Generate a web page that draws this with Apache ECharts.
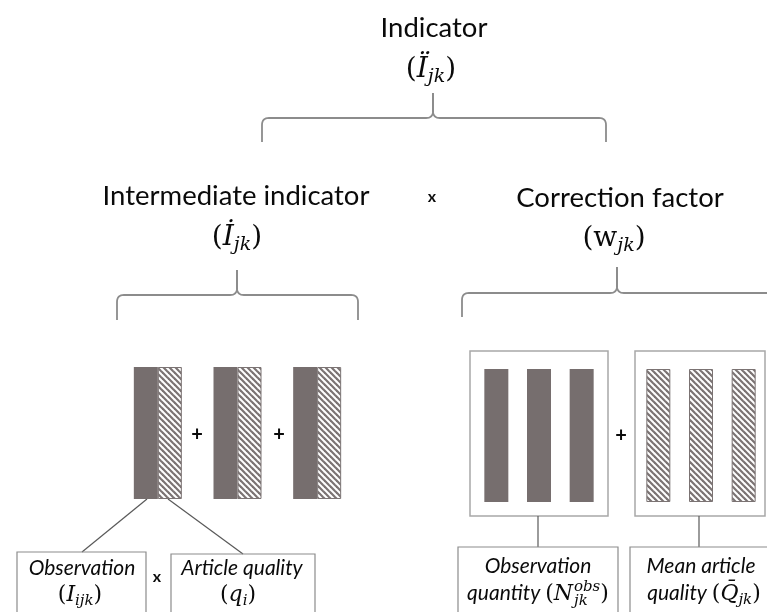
<!DOCTYPE html>
<html>
<head>
<meta charset="utf-8">
<script src="https://cdn.jsdelivr.net/npm/echarts@6/dist/echarts.min.js"></script>
<style>
html, body { margin: 0; padding: 0; background: #fff; }
#main { width: 767px; height: 612px; }
</style>
</head>
<body>
<div id="main"></div>
<script>
// bars of the diagram: one per article, each full height
var articleCategories = ['article 1', 'article 2', 'article 3'];
var observationValues = [1, 1, 1];
var articleQualityValues = [1, 1, 1];
var quantityValues = [1, 1, 1];
var meanQualityValues = [1, 1, 1];

var headings = ['Indicator', 'Intermediate indicator', 'Correction factor'];
var leafLabels = ['Observation', 'Article quality', 'Observation', 'Mean article'];

var SANS = 'Lato', MATH = 'DejaVu Serif';
var ink = '#0a0a0a';
var barDark = '#766e6e';
var hatchInk = '#7b7373';

function fnt(style, size, fam) { return style + ' ' + size + 'px "' + fam + '"'; }

// measuring, so that pieces of a formula can be set side by side
var mctx = document.createElement('canvas').getContext('2d');
function tw(s, font) {
    mctx.font = font;
    mctx.textBaseline = 'alphabetic';
    return mctx.measureText(s).width;
}
function baseOff(font) {
    mctx.font = font;
    mctx.textBaseline = 'alphabetic';
    var a = mctx.measureText('H').actualBoundingBoxAscent;
    mctx.textBaseline = 'middle';
    var m = mctx.measureText('H').actualBoundingBoxAscent;
    return a - m;
}
function textEl(x, baseline, s, font, align) {
    return {
        type: 'text', x: x, y: baseline - baseOff(font), silent: true,
        style: {
            text: s, font: font, fill: ink,
            align: align || 'left', verticalAlign: 'middle',
            textAlign: align || 'left', textVerticalAlign: 'middle'
        }
    };
}
function centerText(x, y, s, font) {
    return {
        type: 'text', x: x, y: y, silent: true,
        style: {
            text: s, font: font, fill: ink,
            align: 'center', verticalAlign: 'middle',
            textAlign: 'center', textVerticalAlign: 'middle'
        }
    };
}
function mathLine(cx, baseline, pieces) {
    var widths = pieces.map(function (p) {
        if (p.t != null) return tw(p.t, p.font) + (p.kern || 0);
        return Math.max(tw(p.sup, p.font), tw(p.sub, p.font));
    });
    var total = widths.reduce(function (a, b) { return a + b; }, 0);
    var x = cx - total / 2, els = [];
    pieces.forEach(function (p, i) {
        if (p.t != null) {
            els.push(textEl(x, baseline + (p.dy || 0), p.t, p.font));
        } else {
            els.push(textEl(x, baseline + p.supDy, p.sup, p.font));
            els.push(textEl(x, baseline + p.subDy, p.sub, p.font));
        }
        x += widths[i];
    });
    return els;
}

// curly brace, open side down
function brace(x0, x1, xt, y, yEnd, yTip) {
    var r = 7;
    function half(xe, dir) {
        var pts = [[xe, yEnd], [xe, y + r]];
        function q(p0, c, p1) {
            for (var t = 0.125; t <= 1.0001; t += 0.125) {
                pts.push([
                    (1 - t) * (1 - t) * p0[0] + 2 * (1 - t) * t * c[0] + t * t * p1[0],
                    (1 - t) * (1 - t) * p0[1] + 2 * (1 - t) * t * c[1] + t * t * p1[1]
                ]);
            }
        }
        q([xe, y + r], [xe, y], [xe + dir * r, y]);
        pts.push([xt - dir * r, y]);
        q([xt - dir * r, y], [xt, y], [xt, y - r]);
        pts.push([xt, yTip]);
        return {
            type: 'polyline', silent: true,
            shape: { points: pts },
            style: { stroke: '#8c8c8c', lineWidth: 1.8, fill: null }
        };
    }
    return [half(x0, 1), half(x1, -1)];
}

function lineEl(x1, y1, x2, y2) {
    return {
        type: 'line', silent: true,
        shape: { x1: x1, y1: y1, x2: x2, y2: y2 },
        style: { stroke: '#595959', lineWidth: 1.2 }
    };
}
function boxEl(x, y, w, h, color, lw) {
    return {
        type: 'rect', silent: true,
        shape: { x: x, y: y, width: w, height: h },
        style: { stroke: color, lineWidth: lw, fill: null }
    };
}

// hatch tile: thin diagonal stripes
var tile = document.createElement('canvas');
tile.width = 6; tile.height = 6;
var tctx = tile.getContext('2d');
tctx.fillStyle = '#fff';
tctx.fillRect(0, 0, 6, 6);
tctx.strokeStyle = hatchInk;
tctx.lineWidth = 2.2;
[-6, 0, 6].forEach(function (c) {
    tctx.beginPath();
    tctx.moveTo(-1, -1 + c);
    tctx.lineTo(7, 7 + c);
    tctx.stroke();
});
var hatch = { image: tile, repeat: 'repeat' };

var H1 = fnt('normal', 27.5, SANS);
var M24 = fnt('normal', 28, MATH), I24 = fnt('italic', 28, MATH), S17 = fnt('italic', 19, MATH);
var L19 = fnt('italic', 21, SANS);
var M20 = fnt('normal', 22, MATH), I20 = fnt('italic', 22, MATH), S14 = fnt('italic', 15, MATH);

var gfx = [];
gfx.push(textEl(434, 37, headings[0], H1, 'center'));
gfx = gfx.concat(mathLine(431, 77, [
    { t: '(', font: M24 }, { t: 'Ï', font: I24 }, { t: 'jk', font: S17, dy: 5 }, { t: ')', font: M24 }
]));
gfx = gfx.concat(brace(262, 606, 433, 118, 142, 93));

gfx.push(textEl(236, 205, headings[1], H1, 'center'));
gfx = gfx.concat(mathLine(237, 245, [
    { t: '(', font: M24 }, { t: 'İ', font: I24 }, { t: 'jk', font: S17, dy: 5 }, { t: ')', font: M24 }
]));
gfx = gfx.concat(brace(117, 358, 237, 295, 320, 270));

gfx.push(centerText(432, 197, 'x', fnt('bold', 16, SANS)));

gfx.push(textEl(620, 207, headings[2], H1, 'center'));
gfx = gfx.concat(mathLine(614, 246, [
    { t: '(', font: M24 }, { t: 'w', font: M24 }, { t: 'jk', font: S17, dy: 5 }, { t: ')', font: M24 }
]));
gfx = gfx.concat(brace(462, 775, 617, 293, 317, 267));

// plus signs between bars
var PLUS = fnt('bold', 20, SANS);
gfx.push(centerText(197, 435, '+', PLUS));
gfx.push(centerText(279, 435, '+', PLUS));
gfx.push(centerText(621, 436, '+', PLUS));

// frames round the correction bars
gfx.push(boxEl(470, 351, 138, 165, '#a8a8a8', 1.5));
gfx.push(boxEl(635, 351, 130, 165, '#a8a8a8', 1.5));

// connectors
gfx.push(lineEl(147, 499, 82, 552));
gfx.push(lineEl(168, 499, 243, 554));
gfx.push(lineEl(538, 516, 538, 547));
gfx.push(lineEl(699, 516, 699, 547));

// leaf boxes
gfx.push(boxEl(17, 552, 129, 80, '#8c8c8c', 1.2));
gfx.push(boxEl(171, 554, 144, 80, '#8c8c8c', 1.2));
gfx.push(boxEl(458, 547, 160, 80, '#8c8c8c', 1.2));
gfx.push(boxEl(630, 547, 150, 80, '#8c8c8c', 1.2));

gfx.push(textEl(82, 575, leafLabels[0], L19, 'center'));
gfx = gfx.concat(mathLine(80, 601, [
    { t: '(', font: M20 }, { t: 'I', font: I20 }, { t: 'ijk', font: S14, dy: 4 }, { t: ')', font: M20 }
]));
gfx.push(centerText(157, 577, 'x', fnt('bold', 16, SANS)));
gfx.push(textEl(242, 575, leafLabels[1], L19, 'center'));
gfx = gfx.concat(mathLine(238, 601, [
    { t: '(', font: M20 }, { t: 'q', font: I20 }, { t: 'i', font: S14, dy: 4 }, { t: ')', font: M20 }
]));

gfx.push(textEl(538, 573, leafLabels[2], L19, 'center'));
gfx = gfx.concat(mathLine(538, 600, [
    { t: 'quantity ', font: L19 }, { t: '(', font: M20 }, { t: 'N', font: I20, kern: 1 },
    { sup: 'obs', sub: 'jk', font: S14, supDy: -9, subDy: 5 }, { t: ')', font: M20 }
]));
gfx.push(textEl(701, 573, leafLabels[3], L19, 'center'));
gfx = gfx.concat(mathLine(704, 600, [
    { t: 'quality ', font: L19 }, { t: '(', font: M20 }, { t: 'Q\u0304', font: I20 },
    { t: 'jk', font: S14, dy: 4 }, { t: ')', font: M20 }
]));

var myChart = echarts.init(document.getElementById('main'));

function hiddenX(i) {
    return { type: 'category', gridIndex: i, data: articleCategories, show: false };
}
function hiddenY(i) {
    return { type: 'value', gridIndex: i, min: 0, max: 1, show: false };
}

var option = {
    backgroundColor: '#fff',
    animation: false,
    grid: [
        { left: 118, top: 367, width: 239, height: 132 },
        { left: 475, top: 369, width: 128, height: 133 },
        { left: 637, top: 369, width: 128, height: 133 }
    ],
    xAxis: [hiddenX(0), hiddenX(1), hiddenX(2)],
    yAxis: [hiddenY(0), hiddenY(1), hiddenY(2)],
    series: [
        {
            name: 'Observation', type: 'bar', xAxisIndex: 0, yAxisIndex: 0,
            data: observationValues, barWidth: 24, barGap: '0%', silent: true,
            itemStyle: { color: barDark }
        },
        {
            name: 'Article quality', type: 'bar', xAxisIndex: 0, yAxisIndex: 0,
            data: articleQualityValues, barWidth: 24, barGap: '0%', silent: true,
            itemStyle: { color: hatch, borderColor: hatchInk, borderWidth: 1 }
        },
        {
            name: 'Observation quantity', type: 'bar', xAxisIndex: 1, yAxisIndex: 1,
            data: quantityValues, barWidth: 24, silent: true,
            itemStyle: { color: barDark }
        },
        {
            name: 'Mean article quality', type: 'bar', xAxisIndex: 2, yAxisIndex: 2,
            data: meanQualityValues, barWidth: 24, silent: true,
            itemStyle: { color: hatch, borderColor: hatchInk, borderWidth: 1 }
        }
    ],
    graphic: { elements: gfx }
};

myChart.setOption(option);
</script>
</body>
</html>
